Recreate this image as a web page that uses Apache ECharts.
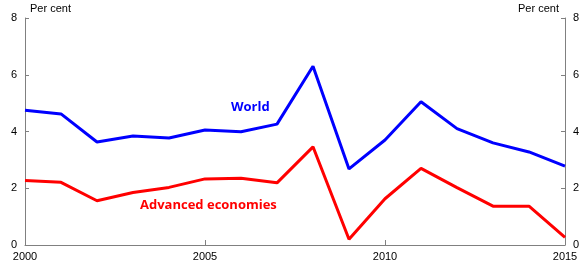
<!DOCTYPE html>
<html><head><meta charset="utf-8">
<script src="https://cdn.jsdelivr.net/npm/echarts@6/dist/echarts.min.js"></script>
<style>html,body{margin:0;padding:0;background:#fff}#c{width:586px;height:265px}</style>
</head><body><div id="c"></div>
<script>
const years = [2000,2001,2002,2003,2004,2005,2006,2007,2008,2009,2010,2011,2012,2013,2014,2015];
const world = [4.75,4.62,3.63,3.84,3.77,4.05,3.99,4.26,6.30,2.68,3.70,5.05,4.10,3.60,3.28,2.78];
const advanced = [2.27,2.21,1.56,1.85,2.03,2.33,2.35,2.19,3.46,0.20,1.63,2.70,2.02,1.37,1.37,0.27];
const yTicks = [0,2,4,6,8];
const unitLabel = 'Per cent';

const chart = echarts.init(document.getElementById('c'), null, {renderer:'canvas'});
const axisFont = {fontFamily:'Liberation Sans, Arial, sans-serif', fontSize:11, color:'#000'};
const axisLineStyle = {color:'#808080', width:1};
function yAxisDef(pos){
  return {
    type:'value', position:pos, min:yTicks[0], max:yTicks[yTicks.length-1], interval:2,
    axisLine:{show:true, lineStyle:axisLineStyle},
    axisTick:{show:true, inside:true, length:4, lineStyle:axisLineStyle},
    axisLabel:Object.assign({margin:8}, axisFont),
    splitLine:{show:false}
  };
}
chart.setOption({
  animation:false,
  grid:{left:25, right:21, top:18, bottom:20, containLabel:false},
  xAxis:{type:'value', min:2000, max:2015, interval:5,
    axisLine:{show:true, onZero:false, lineStyle:axisLineStyle},
    axisTick:{show:true, inside:true, length:5, lineStyle:axisLineStyle},
    axisLabel:Object.assign({margin:6, formatter:v=>String(v)}, axisFont),
    splitLine:{show:false}},
  yAxis:[yAxisDef('left'), yAxisDef('right')],
  series:[
    {name:'World', type:'line', data:years.map((y,i)=>[y,world[i]]), symbol:'none',
     lineStyle:{color:'#0000FF', width:3}, itemStyle:{color:'#0000FF'}},
    {name:'Advanced economies', type:'line', data:years.map((y,i)=>[y,advanced[i]]), symbol:'none',
     lineStyle:{color:'#FF0000', width:3}, itemStyle:{color:'#FF0000'}}
  ],
  graphic:[
    {type:'text', left:30, top:3, style:{text:unitLabel, fill:'#000', font:'11px "Liberation Sans", Arial, sans-serif'}},
    {type:'text', right:27, top:3, style:{text:unitLabel, fill:'#000', font:'11px "Liberation Sans", Arial, sans-serif'}},
    {type:'text', left:231, top:101, style:{text:'World', fill:'#0000FF', font:'bold 13px "Open Sans", Arial, sans-serif'}},
    {type:'text', left:140, top:199, style:{text:'Advanced economies', fill:'#FF0000', font:'bold 13px "Open Sans", Arial, sans-serif'}}
  ]
});
</script></body></html>
